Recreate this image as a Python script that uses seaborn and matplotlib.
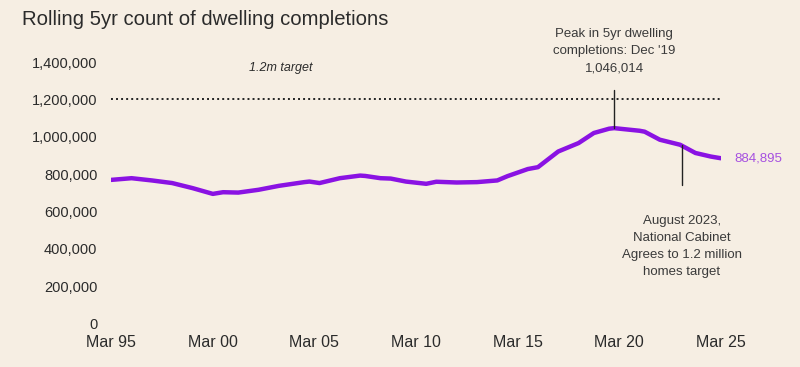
import pandas as pd
import matplotlib
matplotlib.use('Agg')
import matplotlib.pyplot as plt
import matplotlib.dates as mdates
from matplotlib.ticker import FuncFormatter
import seaborn as sns

# values
dates = ['1995-03', '1996-03', '1997-03', '1998-03', '1999-03', '2000-03',
         '2000-09', '2001-06', '2002-06', '2003-06', '2004-09', '2004-12',
         '2005-06', '2006-06', '2007-06', '2007-09', '2008-06', '2008-12',
         '2009-09', '2010-09', '2011-03', '2012-03', '2013-03', '2014-03',
         '2014-09', '2015-09', '2016-03', '2017-03', '2018-03', '2018-12',
         '2019-09', '2019-12', '2021-03', '2021-06', '2022-03', '2023-03',
         '2023-12', '2024-09', '2025-03']
completions = [769000, 778000, 766000, 752000, 725000, 694000,
               703000, 701000, 716000, 737000, 757000, 760000,
               752000, 778000, 792000, 790000, 778000, 776000,
               760000, 748000, 759000, 755000, 757000, 766000,
               789000, 827000, 837000, 921000, 966000, 1020000,
               1043000, 1046014, 1032000, 1027000, 984000, 957000,
               913000, 894000, 884895]
yticks = [0, 200000, 400000, 600000, 800000, 1000000, 1200000, 1400000]
xtick_years = [1995, 2000, 2005, 2010, 2015, 2020, 2025]
target = 1200000
peak_date = '2019-12'
peak_value = 1046014
cabinet_date = '2023-04'
cabinet_value = 955000

df = pd.DataFrame({'date': pd.to_datetime(dates), 'completions': completions})

bg = '#f6eee3'
purple = '#8a12e3'
dark = '#2b2b2b'
note = '#3a3a3a'

sns.set_style('white')
plt.rcParams['font.family'] = ['Liberation Sans', 'DejaVu Sans']

fig = plt.figure(figsize=(8, 3.67), dpi=100, facecolor=bg)
ax = fig.add_axes([0.139, 0.1185, 0.762, 0.7125])
ax.set_facecolor(bg)

sns.lineplot(data=df, x='date', y='completions', ax=ax, color=purple,
             linewidth=3.2, solid_capstyle='round')

# 1.2m target line
ax.axhline(target, color='#222222', linestyle=(0, (1, 1.6)), linewidth=1.4)
ax.text(pd.Timestamp('2003-07-01'), 1370000, '1.2m target', style='italic',
        fontsize=9, color=dark, ha='center', va='center')

# peak annotation
pk = pd.Timestamp(peak_date + '-01')
ax.plot([pk, pk], [peak_value, 1250000], color='#222222', linewidth=1)
ax.text(pk, 1335000, "Peak in 5yr dwelling\ncompletions: Dec '19\n1,046,014",
        ha='center', va='bottom', fontsize=9.5, color=note, linespacing=1.55,
        clip_on=False)

# national cabinet annotation
cb = pd.Timestamp(cabinet_date + '-01')
ax.plot([cb, cb], [cabinet_value, 740000], color='#222222', linewidth=1)
ax.text(cb, 582000, 'August 2023,\nNational Cabinet\nAgrees to 1.2 million\nhomes target',
        ha='center', va='top', fontsize=9.5, color=note, linespacing=1.55)

# end label
ax.text(df['date'].iloc[-1] + pd.Timedelta(days=250), completions[-1],
        f'{completions[-1]:,}', color='#a650e0', fontsize=9.5,
        ha='left', va='center', clip_on=False)

ax.set_xlim(pd.Timestamp('1995-03-01'), pd.Timestamp('2025-03-01'))
ax.set_ylim(0, 1400000)
ax.set_yticks(yticks)
ax.yaxis.set_major_formatter(FuncFormatter(lambda v, p: f'{int(v):,}'))
ax.set_xticks([pd.Timestamp(f'{y}-03-01') for y in xtick_years])
ax.xaxis.set_major_formatter(mdates.DateFormatter('%b %y'))
ax.tick_params(axis='y', length=0, pad=10, labelsize=10.5, labelcolor=dark)
ax.tick_params(axis='x', length=0, pad=8, labelsize=11.5, labelcolor=dark)
ax.set_xlabel('')
ax.set_ylabel('')
sns.despine(ax=ax, left=True, bottom=True)

fig.text(0.0275, 0.948, 'Rolling 5yr count of dwelling completions',
         fontsize=14.6, color=dark, ha='left', va='center')

fig.savefig('out.png', dpi=100, facecolor=bg)
